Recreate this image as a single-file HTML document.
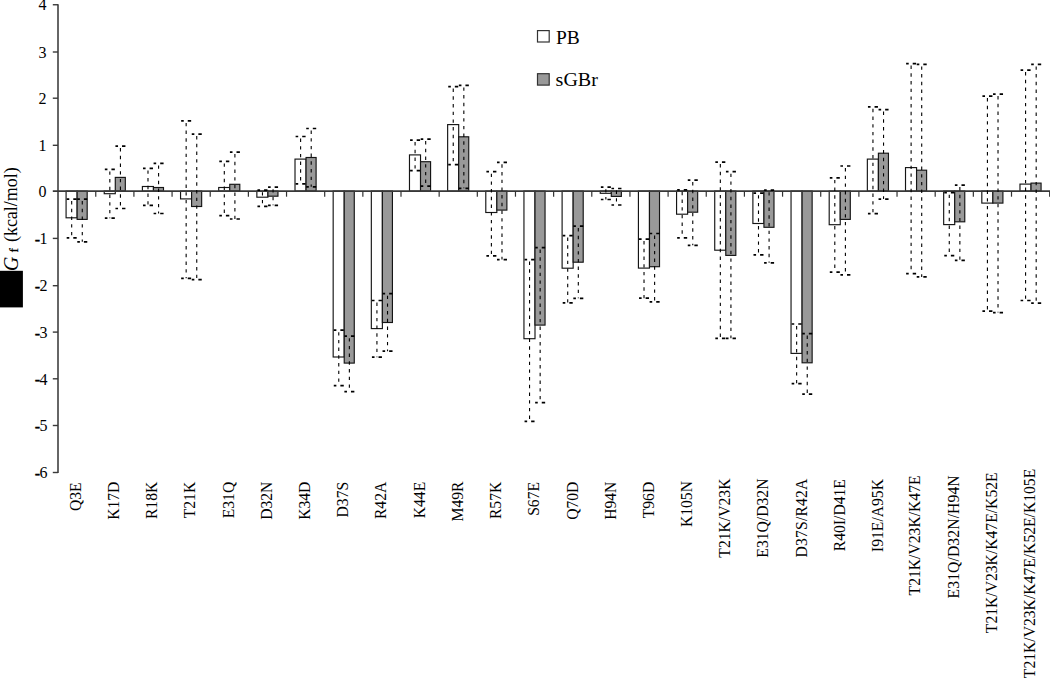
<!DOCTYPE html><html><head><meta charset="utf-8"><title>chart</title>
<style>html,body{margin:0;padding:0;background:#fff}svg{display:block}text{font-family:"Liberation Serif","Times New Roman",serif;fill:#000}</style></head><body>
<svg width="1050" height="678" viewBox="0 0 1050 678">
<rect width="1050" height="678" fill="#fff"/>
<rect x="66.08" y="191.10" width="11.05" height="26.70" fill="#fff" stroke="#151515" stroke-width="1.15"/>
<rect x="77.13" y="191.10" width="10.05" height="28.30" fill="#999" stroke="#151515" stroke-width="1.15"/>
<rect x="104.23" y="191.10" width="11.05" height="2.60" fill="#fff" stroke="#151515" stroke-width="1.15"/>
<rect x="115.28" y="177.40" width="10.05" height="13.70" fill="#999" stroke="#151515" stroke-width="1.15"/>
<rect x="142.39" y="186.50" width="11.05" height="4.60" fill="#fff" stroke="#151515" stroke-width="1.15"/>
<rect x="153.44" y="187.50" width="10.05" height="3.60" fill="#999" stroke="#151515" stroke-width="1.15"/>
<rect x="180.55" y="191.10" width="11.05" height="7.80" fill="#fff" stroke="#151515" stroke-width="1.15"/>
<rect x="191.60" y="191.10" width="10.05" height="15.40" fill="#999" stroke="#151515" stroke-width="1.15"/>
<rect x="218.70" y="187.50" width="11.05" height="3.60" fill="#fff" stroke="#151515" stroke-width="1.15"/>
<rect x="229.75" y="184.30" width="10.05" height="6.80" fill="#999" stroke="#151515" stroke-width="1.15"/>
<rect x="256.86" y="191.10" width="11.05" height="6.10" fill="#fff" stroke="#151515" stroke-width="1.15"/>
<rect x="267.91" y="191.10" width="10.05" height="5.10" fill="#999" stroke="#151515" stroke-width="1.15"/>
<rect x="295.01" y="159.10" width="11.05" height="32.00" fill="#fff" stroke="#151515" stroke-width="1.15"/>
<rect x="306.06" y="157.50" width="10.05" height="33.60" fill="#999" stroke="#151515" stroke-width="1.15"/>
<rect x="333.17" y="191.10" width="11.05" height="165.90" fill="#fff" stroke="#151515" stroke-width="1.15"/>
<rect x="344.22" y="191.10" width="10.05" height="172.00" fill="#999" stroke="#151515" stroke-width="1.15"/>
<rect x="371.33" y="191.10" width="11.05" height="137.50" fill="#fff" stroke="#151515" stroke-width="1.15"/>
<rect x="382.38" y="191.10" width="10.05" height="131.40" fill="#999" stroke="#151515" stroke-width="1.15"/>
<rect x="409.48" y="154.90" width="11.05" height="36.20" fill="#fff" stroke="#151515" stroke-width="1.15"/>
<rect x="420.53" y="161.70" width="10.05" height="29.40" fill="#999" stroke="#151515" stroke-width="1.15"/>
<rect x="447.64" y="124.60" width="11.05" height="66.50" fill="#fff" stroke="#151515" stroke-width="1.15"/>
<rect x="458.69" y="136.80" width="10.05" height="54.30" fill="#999" stroke="#151515" stroke-width="1.15"/>
<rect x="485.79" y="191.10" width="11.05" height="21.40" fill="#fff" stroke="#151515" stroke-width="1.15"/>
<rect x="496.84" y="191.10" width="10.05" height="19.00" fill="#999" stroke="#151515" stroke-width="1.15"/>
<rect x="523.95" y="191.10" width="11.05" height="147.60" fill="#fff" stroke="#151515" stroke-width="1.15"/>
<rect x="535.00" y="191.10" width="10.05" height="134.00" fill="#999" stroke="#151515" stroke-width="1.15"/>
<rect x="562.11" y="191.10" width="11.05" height="77.10" fill="#fff" stroke="#151515" stroke-width="1.15"/>
<rect x="573.16" y="191.10" width="10.05" height="71.10" fill="#999" stroke="#151515" stroke-width="1.15"/>
<rect x="600.26" y="191.10" width="11.05" height="2.20" fill="#fff" stroke="#151515" stroke-width="1.15"/>
<rect x="611.31" y="191.10" width="10.05" height="5.30" fill="#999" stroke="#151515" stroke-width="1.15"/>
<rect x="638.42" y="191.10" width="11.05" height="77.00" fill="#fff" stroke="#151515" stroke-width="1.15"/>
<rect x="649.47" y="191.10" width="10.05" height="75.60" fill="#999" stroke="#151515" stroke-width="1.15"/>
<rect x="676.57" y="191.10" width="11.05" height="23.10" fill="#fff" stroke="#151515" stroke-width="1.15"/>
<rect x="687.62" y="191.10" width="10.05" height="21.10" fill="#999" stroke="#151515" stroke-width="1.15"/>
<rect x="714.73" y="191.10" width="11.05" height="59.10" fill="#fff" stroke="#151515" stroke-width="1.15"/>
<rect x="725.78" y="191.10" width="10.05" height="64.30" fill="#999" stroke="#151515" stroke-width="1.15"/>
<rect x="752.89" y="191.10" width="11.05" height="32.40" fill="#fff" stroke="#151515" stroke-width="1.15"/>
<rect x="763.94" y="191.10" width="10.05" height="36.20" fill="#999" stroke="#151515" stroke-width="1.15"/>
<rect x="791.04" y="191.10" width="11.05" height="162.30" fill="#fff" stroke="#151515" stroke-width="1.15"/>
<rect x="802.09" y="191.10" width="10.05" height="171.70" fill="#999" stroke="#151515" stroke-width="1.15"/>
<rect x="829.20" y="191.10" width="11.05" height="33.60" fill="#fff" stroke="#151515" stroke-width="1.15"/>
<rect x="840.25" y="191.10" width="10.05" height="28.30" fill="#999" stroke="#151515" stroke-width="1.15"/>
<rect x="867.35" y="159.10" width="11.05" height="32.00" fill="#fff" stroke="#151515" stroke-width="1.15"/>
<rect x="878.40" y="153.20" width="10.05" height="37.90" fill="#999" stroke="#151515" stroke-width="1.15"/>
<rect x="905.51" y="167.60" width="11.05" height="23.50" fill="#fff" stroke="#151515" stroke-width="1.15"/>
<rect x="916.56" y="170.20" width="10.05" height="20.90" fill="#999" stroke="#151515" stroke-width="1.15"/>
<rect x="943.67" y="191.10" width="11.05" height="33.50" fill="#fff" stroke="#151515" stroke-width="1.15"/>
<rect x="954.72" y="191.10" width="10.05" height="30.70" fill="#999" stroke="#151515" stroke-width="1.15"/>
<rect x="981.82" y="191.10" width="11.05" height="12.00" fill="#fff" stroke="#151515" stroke-width="1.15"/>
<rect x="992.87" y="191.10" width="10.05" height="12.00" fill="#999" stroke="#151515" stroke-width="1.15"/>
<rect x="1019.98" y="184.10" width="11.05" height="7.00" fill="#fff" stroke="#151515" stroke-width="1.15"/>
<rect x="1031.03" y="183.10" width="10.05" height="8.00" fill="#999" stroke="#151515" stroke-width="1.15"/>
<line x1="58.0" y1="4.2" x2="58.0" y2="473.1" stroke="#666" stroke-width="2"/>
<line x1="52.8" y1="191.1" x2="1050" y2="191.1" stroke="#383838" stroke-width="1.7"/>
<line x1="52.8" y1="4.75" x2="58.0" y2="4.75" stroke="#3a3a3a" stroke-width="1.4"/>
<text x="46.6" y="9.90" font-size="16" text-anchor="end">4</text>
<line x1="52.8" y1="52.0" x2="58.0" y2="52.0" stroke="#3a3a3a" stroke-width="1.4"/>
<text x="46.6" y="57.75" font-size="16" text-anchor="end">3</text>
<line x1="52.8" y1="98.2" x2="58.0" y2="98.2" stroke="#3a3a3a" stroke-width="1.4"/>
<text x="46.6" y="103.95" font-size="16" text-anchor="end">2</text>
<line x1="52.8" y1="145.3" x2="58.0" y2="145.3" stroke="#3a3a3a" stroke-width="1.4"/>
<text x="46.6" y="151.05" font-size="16" text-anchor="end">1</text>
<text x="46.6" y="196.90" font-size="16" text-anchor="end">0</text>
<line x1="52.8" y1="238.4" x2="58.0" y2="238.4" stroke="#3a3a3a" stroke-width="1.4"/>
<text x="46.6" y="244.15" font-size="16" text-anchor="end"><tspan dx="0.8" dy="0.8" stroke="#000" stroke-width="0.35">-</tspan><tspan dx="-0.8" dy="-0.8">1</tspan></text>
<line x1="52.8" y1="285.7" x2="58.0" y2="285.7" stroke="#3a3a3a" stroke-width="1.4"/>
<text x="46.6" y="291.45" font-size="16" text-anchor="end"><tspan dx="0.8" dy="0.8" stroke="#000" stroke-width="0.35">-</tspan><tspan dx="-0.8" dy="-0.8">2</tspan></text>
<line x1="52.8" y1="332.1" x2="58.0" y2="332.1" stroke="#3a3a3a" stroke-width="1.4"/>
<text x="46.6" y="337.85" font-size="16" text-anchor="end"><tspan dx="0.8" dy="0.8" stroke="#000" stroke-width="0.35">-</tspan><tspan dx="-0.8" dy="-0.8">3</tspan></text>
<line x1="52.8" y1="378.8" x2="58.0" y2="378.8" stroke="#3a3a3a" stroke-width="1.4"/>
<text x="46.6" y="384.55" font-size="16" text-anchor="end"><tspan dx="0.8" dy="0.8" stroke="#000" stroke-width="0.35">-</tspan><tspan dx="-0.8" dy="-0.8">4</tspan></text>
<line x1="52.8" y1="425.5" x2="58.0" y2="425.5" stroke="#3a3a3a" stroke-width="1.4"/>
<text x="46.6" y="431.25" font-size="16" text-anchor="end"><tspan dx="0.8" dy="0.8" stroke="#000" stroke-width="0.35">-</tspan><tspan dx="-0.8" dy="-0.8">5</tspan></text>
<line x1="52.8" y1="472.5" x2="58.0" y2="472.5" stroke="#3a3a3a" stroke-width="1.4"/>
<text x="46.6" y="478.25" font-size="16" text-anchor="end"><tspan dx="0.8" dy="0.8" stroke="#000" stroke-width="0.35">-</tspan><tspan dx="-0.8" dy="-0.8">6</tspan></text>
<line x1="95.76" y1="191.1" x2="95.76" y2="196.7" stroke="#333" stroke-width="1.2"/>
<line x1="133.91" y1="191.1" x2="133.91" y2="196.7" stroke="#333" stroke-width="1.2"/>
<line x1="172.07" y1="191.1" x2="172.07" y2="196.7" stroke="#333" stroke-width="1.2"/>
<line x1="210.22" y1="191.1" x2="210.22" y2="196.7" stroke="#333" stroke-width="1.2"/>
<line x1="248.38" y1="191.1" x2="248.38" y2="196.7" stroke="#333" stroke-width="1.2"/>
<line x1="286.54" y1="191.1" x2="286.54" y2="196.7" stroke="#333" stroke-width="1.2"/>
<line x1="324.69" y1="191.1" x2="324.69" y2="196.7" stroke="#333" stroke-width="1.2"/>
<line x1="362.85" y1="191.1" x2="362.85" y2="196.7" stroke="#333" stroke-width="1.2"/>
<line x1="401.00" y1="191.1" x2="401.00" y2="196.7" stroke="#333" stroke-width="1.2"/>
<line x1="439.16" y1="191.1" x2="439.16" y2="196.7" stroke="#333" stroke-width="1.2"/>
<line x1="477.32" y1="191.1" x2="477.32" y2="196.7" stroke="#333" stroke-width="1.2"/>
<line x1="515.47" y1="191.1" x2="515.47" y2="196.7" stroke="#333" stroke-width="1.2"/>
<line x1="553.63" y1="191.1" x2="553.63" y2="196.7" stroke="#333" stroke-width="1.2"/>
<line x1="591.78" y1="191.1" x2="591.78" y2="196.7" stroke="#333" stroke-width="1.2"/>
<line x1="629.94" y1="191.1" x2="629.94" y2="196.7" stroke="#333" stroke-width="1.2"/>
<line x1="668.10" y1="191.1" x2="668.10" y2="196.7" stroke="#333" stroke-width="1.2"/>
<line x1="706.25" y1="191.1" x2="706.25" y2="196.7" stroke="#333" stroke-width="1.2"/>
<line x1="744.41" y1="191.1" x2="744.41" y2="196.7" stroke="#333" stroke-width="1.2"/>
<line x1="782.56" y1="191.1" x2="782.56" y2="196.7" stroke="#333" stroke-width="1.2"/>
<line x1="820.72" y1="191.1" x2="820.72" y2="196.7" stroke="#333" stroke-width="1.2"/>
<line x1="858.88" y1="191.1" x2="858.88" y2="196.7" stroke="#333" stroke-width="1.2"/>
<line x1="897.03" y1="191.1" x2="897.03" y2="196.7" stroke="#333" stroke-width="1.2"/>
<line x1="935.19" y1="191.1" x2="935.19" y2="196.7" stroke="#333" stroke-width="1.2"/>
<line x1="973.34" y1="191.1" x2="973.34" y2="196.7" stroke="#333" stroke-width="1.2"/>
<line x1="1011.50" y1="191.1" x2="1011.50" y2="196.7" stroke="#333" stroke-width="1.2"/>
<line x1="1049.66" y1="191.1" x2="1049.66" y2="196.7" stroke="#333" stroke-width="1.2"/>
<line x1="71.68" y1="199.10" x2="71.68" y2="237.80" stroke="#000" stroke-width="1.1" stroke-dasharray="3.4 4.3" stroke-dashoffset="-2"/>
<line x1="76.68" y1="199.10" x2="66.68" y2="199.10" stroke="#000" stroke-width="1.7" stroke-dasharray="3.4 4.0"/>
<line x1="76.68" y1="237.80" x2="66.68" y2="237.80" stroke="#000" stroke-width="1.7" stroke-dasharray="3.4 4.0"/>
<line x1="82.28" y1="199.10" x2="82.28" y2="241.80" stroke="#000" stroke-width="1.1" stroke-dasharray="3.4 4.3" stroke-dashoffset="-2"/>
<line x1="87.28" y1="199.10" x2="77.28" y2="199.10" stroke="#000" stroke-width="1.7" stroke-dasharray="3.4 4.0"/>
<line x1="87.28" y1="241.80" x2="77.28" y2="241.80" stroke="#000" stroke-width="1.7" stroke-dasharray="3.4 4.0"/>
<line x1="109.83" y1="169.40" x2="109.83" y2="218.20" stroke="#000" stroke-width="1.1" stroke-dasharray="3.4 4.3" stroke-dashoffset="-2"/>
<line x1="114.83" y1="169.40" x2="104.83" y2="169.40" stroke="#000" stroke-width="1.7" stroke-dasharray="3.4 4.0"/>
<line x1="114.83" y1="218.20" x2="104.83" y2="218.20" stroke="#000" stroke-width="1.7" stroke-dasharray="3.4 4.0"/>
<line x1="120.43" y1="146.10" x2="120.43" y2="208.50" stroke="#000" stroke-width="1.1" stroke-dasharray="3.4 4.3" stroke-dashoffset="-2"/>
<line x1="125.43" y1="146.10" x2="115.43" y2="146.10" stroke="#000" stroke-width="1.7" stroke-dasharray="3.4 4.0"/>
<line x1="125.43" y1="208.50" x2="115.43" y2="208.50" stroke="#000" stroke-width="1.7" stroke-dasharray="3.4 4.0"/>
<line x1="147.99" y1="168.40" x2="147.99" y2="205.30" stroke="#000" stroke-width="1.1" stroke-dasharray="3.4 4.3" stroke-dashoffset="-2"/>
<line x1="152.99" y1="168.40" x2="142.99" y2="168.40" stroke="#000" stroke-width="1.7" stroke-dasharray="3.4 4.0"/>
<line x1="152.99" y1="205.30" x2="142.99" y2="205.30" stroke="#000" stroke-width="1.7" stroke-dasharray="3.4 4.0"/>
<line x1="158.59" y1="163.40" x2="158.59" y2="213.50" stroke="#000" stroke-width="1.1" stroke-dasharray="3.4 4.3" stroke-dashoffset="-2"/>
<line x1="163.59" y1="163.40" x2="153.59" y2="163.40" stroke="#000" stroke-width="1.7" stroke-dasharray="3.4 4.0"/>
<line x1="163.59" y1="213.50" x2="153.59" y2="213.50" stroke="#000" stroke-width="1.7" stroke-dasharray="3.4 4.0"/>
<line x1="186.15" y1="120.90" x2="186.15" y2="278.30" stroke="#000" stroke-width="1.1" stroke-dasharray="3.4 4.3" stroke-dashoffset="-2"/>
<line x1="191.15" y1="120.90" x2="181.15" y2="120.90" stroke="#000" stroke-width="1.7" stroke-dasharray="3.4 4.0"/>
<line x1="191.15" y1="278.30" x2="181.15" y2="278.30" stroke="#000" stroke-width="1.7" stroke-dasharray="3.4 4.0"/>
<line x1="196.75" y1="134.10" x2="196.75" y2="279.70" stroke="#000" stroke-width="1.1" stroke-dasharray="3.4 4.3" stroke-dashoffset="-2"/>
<line x1="201.75" y1="134.10" x2="191.75" y2="134.10" stroke="#000" stroke-width="1.7" stroke-dasharray="3.4 4.0"/>
<line x1="201.75" y1="279.70" x2="191.75" y2="279.70" stroke="#000" stroke-width="1.7" stroke-dasharray="3.4 4.0"/>
<line x1="224.30" y1="161.40" x2="224.30" y2="215.60" stroke="#000" stroke-width="1.1" stroke-dasharray="3.4 4.3" stroke-dashoffset="-2"/>
<line x1="229.30" y1="161.40" x2="219.30" y2="161.40" stroke="#000" stroke-width="1.7" stroke-dasharray="3.4 4.0"/>
<line x1="229.30" y1="215.60" x2="219.30" y2="215.60" stroke="#000" stroke-width="1.7" stroke-dasharray="3.4 4.0"/>
<line x1="234.90" y1="152.10" x2="234.90" y2="219.00" stroke="#000" stroke-width="1.1" stroke-dasharray="3.4 4.3" stroke-dashoffset="-2"/>
<line x1="239.90" y1="152.10" x2="229.90" y2="152.10" stroke="#000" stroke-width="1.7" stroke-dasharray="3.4 4.0"/>
<line x1="239.90" y1="219.00" x2="229.90" y2="219.00" stroke="#000" stroke-width="1.7" stroke-dasharray="3.4 4.0"/>
<line x1="262.46" y1="190.20" x2="262.46" y2="206.30" stroke="#000" stroke-width="1.1" stroke-dasharray="3.4 4.3" stroke-dashoffset="-2"/>
<line x1="267.46" y1="190.20" x2="257.46" y2="190.20" stroke="#000" stroke-width="1.7" stroke-dasharray="3.4 4.0"/>
<line x1="267.46" y1="206.30" x2="257.46" y2="206.30" stroke="#000" stroke-width="1.7" stroke-dasharray="3.4 4.0"/>
<line x1="273.06" y1="187.20" x2="273.06" y2="205.30" stroke="#000" stroke-width="1.1" stroke-dasharray="3.4 4.3" stroke-dashoffset="-2"/>
<line x1="278.06" y1="187.20" x2="268.06" y2="187.20" stroke="#000" stroke-width="1.7" stroke-dasharray="3.4 4.0"/>
<line x1="278.06" y1="205.30" x2="268.06" y2="205.30" stroke="#000" stroke-width="1.7" stroke-dasharray="3.4 4.0"/>
<line x1="300.61" y1="136.50" x2="300.61" y2="183.80" stroke="#000" stroke-width="1.1" stroke-dasharray="3.4 4.3" stroke-dashoffset="-2"/>
<line x1="305.61" y1="136.50" x2="295.61" y2="136.50" stroke="#000" stroke-width="1.7" stroke-dasharray="3.4 4.0"/>
<line x1="305.61" y1="183.80" x2="295.61" y2="183.80" stroke="#000" stroke-width="1.7" stroke-dasharray="3.4 4.0"/>
<line x1="311.21" y1="128.50" x2="311.21" y2="186.80" stroke="#000" stroke-width="1.1" stroke-dasharray="3.4 4.3" stroke-dashoffset="-2"/>
<line x1="316.21" y1="128.50" x2="306.21" y2="128.50" stroke="#000" stroke-width="1.7" stroke-dasharray="3.4 4.0"/>
<line x1="316.21" y1="186.80" x2="306.21" y2="186.80" stroke="#000" stroke-width="1.7" stroke-dasharray="3.4 4.0"/>
<line x1="338.77" y1="330.20" x2="338.77" y2="385.70" stroke="#000" stroke-width="1.1" stroke-dasharray="3.4 4.3" stroke-dashoffset="-2"/>
<line x1="343.77" y1="330.20" x2="333.77" y2="330.20" stroke="#000" stroke-width="1.7" stroke-dasharray="3.4 4.0"/>
<line x1="343.77" y1="385.70" x2="333.77" y2="385.70" stroke="#000" stroke-width="1.7" stroke-dasharray="3.4 4.0"/>
<line x1="349.37" y1="336.20" x2="349.37" y2="391.70" stroke="#000" stroke-width="1.1" stroke-dasharray="3.4 4.3" stroke-dashoffset="-2"/>
<line x1="354.37" y1="336.20" x2="344.37" y2="336.20" stroke="#000" stroke-width="1.7" stroke-dasharray="3.4 4.0"/>
<line x1="354.37" y1="391.70" x2="344.37" y2="391.70" stroke="#000" stroke-width="1.7" stroke-dasharray="3.4 4.0"/>
<line x1="376.93" y1="300.50" x2="376.93" y2="357.20" stroke="#000" stroke-width="1.1" stroke-dasharray="3.4 4.3" stroke-dashoffset="-2"/>
<line x1="381.93" y1="300.50" x2="371.93" y2="300.50" stroke="#000" stroke-width="1.7" stroke-dasharray="3.4 4.0"/>
<line x1="381.93" y1="357.20" x2="371.93" y2="357.20" stroke="#000" stroke-width="1.7" stroke-dasharray="3.4 4.0"/>
<line x1="387.53" y1="293.70" x2="387.53" y2="351.20" stroke="#000" stroke-width="1.1" stroke-dasharray="3.4 4.3" stroke-dashoffset="-2"/>
<line x1="392.53" y1="293.70" x2="382.53" y2="293.70" stroke="#000" stroke-width="1.7" stroke-dasharray="3.4 4.0"/>
<line x1="392.53" y1="351.20" x2="382.53" y2="351.20" stroke="#000" stroke-width="1.7" stroke-dasharray="3.4 4.0"/>
<line x1="415.08" y1="140.10" x2="415.08" y2="170.60" stroke="#000" stroke-width="1.1" stroke-dasharray="3.4 4.3" stroke-dashoffset="-2"/>
<line x1="420.08" y1="140.10" x2="410.08" y2="140.10" stroke="#000" stroke-width="1.7" stroke-dasharray="3.4 4.0"/>
<line x1="420.08" y1="170.60" x2="410.08" y2="170.60" stroke="#000" stroke-width="1.7" stroke-dasharray="3.4 4.0"/>
<line x1="425.68" y1="139.10" x2="425.68" y2="186.20" stroke="#000" stroke-width="1.1" stroke-dasharray="3.4 4.3" stroke-dashoffset="-2"/>
<line x1="430.68" y1="139.10" x2="420.68" y2="139.10" stroke="#000" stroke-width="1.7" stroke-dasharray="3.4 4.0"/>
<line x1="430.68" y1="186.20" x2="420.68" y2="186.20" stroke="#000" stroke-width="1.7" stroke-dasharray="3.4 4.0"/>
<line x1="453.24" y1="86.60" x2="453.24" y2="164.70" stroke="#000" stroke-width="1.1" stroke-dasharray="3.4 4.3" stroke-dashoffset="-2"/>
<line x1="458.24" y1="86.60" x2="448.24" y2="86.60" stroke="#000" stroke-width="1.7" stroke-dasharray="3.4 4.0"/>
<line x1="458.24" y1="164.70" x2="448.24" y2="164.70" stroke="#000" stroke-width="1.7" stroke-dasharray="3.4 4.0"/>
<line x1="463.84" y1="85.40" x2="463.84" y2="188.30" stroke="#000" stroke-width="1.1" stroke-dasharray="3.4 4.3" stroke-dashoffset="-2"/>
<line x1="468.84" y1="85.40" x2="458.84" y2="85.40" stroke="#000" stroke-width="1.7" stroke-dasharray="3.4 4.0"/>
<line x1="468.84" y1="188.30" x2="458.84" y2="188.30" stroke="#000" stroke-width="1.7" stroke-dasharray="3.4 4.0"/>
<line x1="491.39" y1="171.70" x2="491.39" y2="255.80" stroke="#000" stroke-width="1.1" stroke-dasharray="3.4 4.3" stroke-dashoffset="-2"/>
<line x1="496.39" y1="171.70" x2="486.39" y2="171.70" stroke="#000" stroke-width="1.7" stroke-dasharray="3.4 4.0"/>
<line x1="496.39" y1="255.80" x2="486.39" y2="255.80" stroke="#000" stroke-width="1.7" stroke-dasharray="3.4 4.0"/>
<line x1="501.99" y1="162.30" x2="501.99" y2="259.60" stroke="#000" stroke-width="1.1" stroke-dasharray="3.4 4.3" stroke-dashoffset="-2"/>
<line x1="506.99" y1="162.30" x2="496.99" y2="162.30" stroke="#000" stroke-width="1.7" stroke-dasharray="3.4 4.0"/>
<line x1="506.99" y1="259.60" x2="496.99" y2="259.60" stroke="#000" stroke-width="1.7" stroke-dasharray="3.4 4.0"/>
<line x1="529.55" y1="259.60" x2="529.55" y2="421.30" stroke="#000" stroke-width="1.1" stroke-dasharray="3.4 4.3" stroke-dashoffset="-2"/>
<line x1="534.55" y1="259.60" x2="524.55" y2="259.60" stroke="#000" stroke-width="1.7" stroke-dasharray="3.4 4.0"/>
<line x1="534.55" y1="421.30" x2="524.55" y2="421.30" stroke="#000" stroke-width="1.7" stroke-dasharray="3.4 4.0"/>
<line x1="540.15" y1="247.60" x2="540.15" y2="402.70" stroke="#000" stroke-width="1.1" stroke-dasharray="3.4 4.3" stroke-dashoffset="-2"/>
<line x1="545.15" y1="247.60" x2="535.15" y2="247.60" stroke="#000" stroke-width="1.7" stroke-dasharray="3.4 4.0"/>
<line x1="545.15" y1="402.70" x2="535.15" y2="402.70" stroke="#000" stroke-width="1.7" stroke-dasharray="3.4 4.0"/>
<line x1="567.71" y1="235.60" x2="567.71" y2="302.90" stroke="#000" stroke-width="1.1" stroke-dasharray="3.4 4.3" stroke-dashoffset="-2"/>
<line x1="572.71" y1="235.60" x2="562.71" y2="235.60" stroke="#000" stroke-width="1.7" stroke-dasharray="3.4 4.0"/>
<line x1="572.71" y1="302.90" x2="562.71" y2="302.90" stroke="#000" stroke-width="1.7" stroke-dasharray="3.4 4.0"/>
<line x1="578.31" y1="226.10" x2="578.31" y2="298.30" stroke="#000" stroke-width="1.1" stroke-dasharray="3.4 4.3" stroke-dashoffset="-2"/>
<line x1="583.31" y1="226.10" x2="573.31" y2="226.10" stroke="#000" stroke-width="1.7" stroke-dasharray="3.4 4.0"/>
<line x1="583.31" y1="298.30" x2="573.31" y2="298.30" stroke="#000" stroke-width="1.7" stroke-dasharray="3.4 4.0"/>
<line x1="605.86" y1="187.20" x2="605.86" y2="199.50" stroke="#000" stroke-width="1.1" stroke-dasharray="3.4 4.3" stroke-dashoffset="-2"/>
<line x1="610.86" y1="187.20" x2="600.86" y2="187.20" stroke="#000" stroke-width="1.7" stroke-dasharray="3.4 4.0"/>
<line x1="610.86" y1="199.50" x2="600.86" y2="199.50" stroke="#000" stroke-width="1.7" stroke-dasharray="3.4 4.0"/>
<line x1="616.46" y1="188.50" x2="616.46" y2="205.00" stroke="#000" stroke-width="1.1" stroke-dasharray="3.4 4.3" stroke-dashoffset="-2"/>
<line x1="621.46" y1="188.50" x2="611.46" y2="188.50" stroke="#000" stroke-width="1.7" stroke-dasharray="3.4 4.0"/>
<line x1="621.46" y1="205.00" x2="611.46" y2="205.00" stroke="#000" stroke-width="1.7" stroke-dasharray="3.4 4.0"/>
<line x1="644.02" y1="239.10" x2="644.02" y2="298.20" stroke="#000" stroke-width="1.1" stroke-dasharray="3.4 4.3" stroke-dashoffset="-2"/>
<line x1="649.02" y1="239.10" x2="639.02" y2="239.10" stroke="#000" stroke-width="1.7" stroke-dasharray="3.4 4.0"/>
<line x1="649.02" y1="298.20" x2="639.02" y2="298.20" stroke="#000" stroke-width="1.7" stroke-dasharray="3.4 4.0"/>
<line x1="654.62" y1="233.50" x2="654.62" y2="301.80" stroke="#000" stroke-width="1.1" stroke-dasharray="3.4 4.3" stroke-dashoffset="-2"/>
<line x1="659.62" y1="233.50" x2="649.62" y2="233.50" stroke="#000" stroke-width="1.7" stroke-dasharray="3.4 4.0"/>
<line x1="659.62" y1="301.80" x2="649.62" y2="301.80" stroke="#000" stroke-width="1.7" stroke-dasharray="3.4 4.0"/>
<line x1="682.17" y1="189.80" x2="682.17" y2="237.90" stroke="#000" stroke-width="1.1" stroke-dasharray="3.4 4.3" stroke-dashoffset="-2"/>
<line x1="687.17" y1="189.80" x2="677.17" y2="189.80" stroke="#000" stroke-width="1.7" stroke-dasharray="3.4 4.0"/>
<line x1="687.17" y1="237.90" x2="677.17" y2="237.90" stroke="#000" stroke-width="1.7" stroke-dasharray="3.4 4.0"/>
<line x1="692.77" y1="180.10" x2="692.77" y2="245.30" stroke="#000" stroke-width="1.1" stroke-dasharray="3.4 4.3" stroke-dashoffset="-2"/>
<line x1="697.77" y1="180.10" x2="687.77" y2="180.10" stroke="#000" stroke-width="1.7" stroke-dasharray="3.4 4.0"/>
<line x1="697.77" y1="245.30" x2="687.77" y2="245.30" stroke="#000" stroke-width="1.7" stroke-dasharray="3.4 4.0"/>
<line x1="720.33" y1="162.10" x2="720.33" y2="338.30" stroke="#000" stroke-width="1.1" stroke-dasharray="3.4 4.3" stroke-dashoffset="-2"/>
<line x1="725.33" y1="162.10" x2="715.33" y2="162.10" stroke="#000" stroke-width="1.7" stroke-dasharray="3.4 4.0"/>
<line x1="725.33" y1="338.30" x2="715.33" y2="338.30" stroke="#000" stroke-width="1.7" stroke-dasharray="3.4 4.0"/>
<line x1="730.93" y1="171.70" x2="730.93" y2="338.30" stroke="#000" stroke-width="1.1" stroke-dasharray="3.4 4.3" stroke-dashoffset="-2"/>
<line x1="735.93" y1="171.70" x2="725.93" y2="171.70" stroke="#000" stroke-width="1.7" stroke-dasharray="3.4 4.0"/>
<line x1="735.93" y1="338.30" x2="725.93" y2="338.30" stroke="#000" stroke-width="1.7" stroke-dasharray="3.4 4.0"/>
<line x1="758.49" y1="193.20" x2="758.49" y2="254.80" stroke="#000" stroke-width="1.1" stroke-dasharray="3.4 4.3" stroke-dashoffset="-2"/>
<line x1="763.49" y1="193.20" x2="753.49" y2="193.20" stroke="#000" stroke-width="1.7" stroke-dasharray="3.4 4.0"/>
<line x1="763.49" y1="254.80" x2="753.49" y2="254.80" stroke="#000" stroke-width="1.7" stroke-dasharray="3.4 4.0"/>
<line x1="769.09" y1="190.20" x2="769.09" y2="262.80" stroke="#000" stroke-width="1.1" stroke-dasharray="3.4 4.3" stroke-dashoffset="-2"/>
<line x1="774.09" y1="190.20" x2="764.09" y2="190.20" stroke="#000" stroke-width="1.7" stroke-dasharray="3.4 4.0"/>
<line x1="774.09" y1="262.80" x2="764.09" y2="262.80" stroke="#000" stroke-width="1.7" stroke-dasharray="3.4 4.0"/>
<line x1="796.64" y1="324.00" x2="796.64" y2="383.60" stroke="#000" stroke-width="1.1" stroke-dasharray="3.4 4.3" stroke-dashoffset="-2"/>
<line x1="801.64" y1="324.00" x2="791.64" y2="324.00" stroke="#000" stroke-width="1.7" stroke-dasharray="3.4 4.0"/>
<line x1="801.64" y1="383.60" x2="791.64" y2="383.60" stroke="#000" stroke-width="1.7" stroke-dasharray="3.4 4.0"/>
<line x1="807.24" y1="333.60" x2="807.24" y2="394.20" stroke="#000" stroke-width="1.1" stroke-dasharray="3.4 4.3" stroke-dashoffset="-2"/>
<line x1="812.24" y1="333.60" x2="802.24" y2="333.60" stroke="#000" stroke-width="1.7" stroke-dasharray="3.4 4.0"/>
<line x1="812.24" y1="394.20" x2="802.24" y2="394.20" stroke="#000" stroke-width="1.7" stroke-dasharray="3.4 4.0"/>
<line x1="834.80" y1="177.90" x2="834.80" y2="272.20" stroke="#000" stroke-width="1.1" stroke-dasharray="3.4 4.3" stroke-dashoffset="-2"/>
<line x1="839.80" y1="177.90" x2="829.80" y2="177.90" stroke="#000" stroke-width="1.7" stroke-dasharray="3.4 4.0"/>
<line x1="839.80" y1="272.20" x2="829.80" y2="272.20" stroke="#000" stroke-width="1.7" stroke-dasharray="3.4 4.0"/>
<line x1="845.40" y1="166.00" x2="845.40" y2="274.80" stroke="#000" stroke-width="1.1" stroke-dasharray="3.4 4.3" stroke-dashoffset="-2"/>
<line x1="850.40" y1="166.00" x2="840.40" y2="166.00" stroke="#000" stroke-width="1.7" stroke-dasharray="3.4 4.0"/>
<line x1="850.40" y1="274.80" x2="840.40" y2="274.80" stroke="#000" stroke-width="1.7" stroke-dasharray="3.4 4.0"/>
<line x1="872.95" y1="106.80" x2="872.95" y2="213.60" stroke="#000" stroke-width="1.1" stroke-dasharray="3.4 4.3" stroke-dashoffset="-2"/>
<line x1="877.95" y1="106.80" x2="867.95" y2="106.80" stroke="#000" stroke-width="1.7" stroke-dasharray="3.4 4.0"/>
<line x1="877.95" y1="213.60" x2="867.95" y2="213.60" stroke="#000" stroke-width="1.7" stroke-dasharray="3.4 4.0"/>
<line x1="883.55" y1="109.60" x2="883.55" y2="199.10" stroke="#000" stroke-width="1.1" stroke-dasharray="3.4 4.3" stroke-dashoffset="-2"/>
<line x1="888.55" y1="109.60" x2="878.55" y2="109.60" stroke="#000" stroke-width="1.7" stroke-dasharray="3.4 4.0"/>
<line x1="888.55" y1="199.10" x2="878.55" y2="199.10" stroke="#000" stroke-width="1.7" stroke-dasharray="3.4 4.0"/>
<line x1="911.11" y1="63.60" x2="911.11" y2="273.60" stroke="#000" stroke-width="1.1" stroke-dasharray="3.4 4.3" stroke-dashoffset="-2"/>
<line x1="916.11" y1="63.60" x2="906.11" y2="63.60" stroke="#000" stroke-width="1.7" stroke-dasharray="3.4 4.0"/>
<line x1="916.11" y1="273.60" x2="906.11" y2="273.60" stroke="#000" stroke-width="1.7" stroke-dasharray="3.4 4.0"/>
<line x1="921.71" y1="64.40" x2="921.71" y2="276.90" stroke="#000" stroke-width="1.1" stroke-dasharray="3.4 4.3" stroke-dashoffset="-2"/>
<line x1="926.71" y1="64.40" x2="916.71" y2="64.40" stroke="#000" stroke-width="1.7" stroke-dasharray="3.4 4.0"/>
<line x1="926.71" y1="276.90" x2="916.71" y2="276.90" stroke="#000" stroke-width="1.7" stroke-dasharray="3.4 4.0"/>
<line x1="949.27" y1="192.70" x2="949.27" y2="255.70" stroke="#000" stroke-width="1.1" stroke-dasharray="3.4 4.3" stroke-dashoffset="-2"/>
<line x1="954.27" y1="192.70" x2="944.27" y2="192.70" stroke="#000" stroke-width="1.7" stroke-dasharray="3.4 4.0"/>
<line x1="954.27" y1="255.70" x2="944.27" y2="255.70" stroke="#000" stroke-width="1.7" stroke-dasharray="3.4 4.0"/>
<line x1="959.87" y1="185.10" x2="959.87" y2="260.30" stroke="#000" stroke-width="1.1" stroke-dasharray="3.4 4.3" stroke-dashoffset="-2"/>
<line x1="964.87" y1="185.10" x2="954.87" y2="185.10" stroke="#000" stroke-width="1.7" stroke-dasharray="3.4 4.0"/>
<line x1="964.87" y1="260.30" x2="954.87" y2="260.30" stroke="#000" stroke-width="1.7" stroke-dasharray="3.4 4.0"/>
<line x1="987.42" y1="96.10" x2="987.42" y2="311.20" stroke="#000" stroke-width="1.1" stroke-dasharray="3.4 4.3" stroke-dashoffset="-2"/>
<line x1="992.42" y1="96.10" x2="982.42" y2="96.10" stroke="#000" stroke-width="1.7" stroke-dasharray="3.4 4.0"/>
<line x1="992.42" y1="311.20" x2="982.42" y2="311.20" stroke="#000" stroke-width="1.7" stroke-dasharray="3.4 4.0"/>
<line x1="998.02" y1="94.10" x2="998.02" y2="312.60" stroke="#000" stroke-width="1.1" stroke-dasharray="3.4 4.3" stroke-dashoffset="-2"/>
<line x1="1003.02" y1="94.10" x2="993.02" y2="94.10" stroke="#000" stroke-width="1.7" stroke-dasharray="3.4 4.0"/>
<line x1="1003.02" y1="312.60" x2="993.02" y2="312.60" stroke="#000" stroke-width="1.7" stroke-dasharray="3.4 4.0"/>
<line x1="1025.58" y1="70.10" x2="1025.58" y2="300.50" stroke="#000" stroke-width="1.1" stroke-dasharray="3.4 4.3" stroke-dashoffset="-2"/>
<line x1="1030.58" y1="70.10" x2="1020.58" y2="70.10" stroke="#000" stroke-width="1.7" stroke-dasharray="3.4 4.0"/>
<line x1="1030.58" y1="300.50" x2="1020.58" y2="300.50" stroke="#000" stroke-width="1.7" stroke-dasharray="3.4 4.0"/>
<line x1="1036.18" y1="64.40" x2="1036.18" y2="303.10" stroke="#000" stroke-width="1.1" stroke-dasharray="3.4 4.3" stroke-dashoffset="-2"/>
<line x1="1041.18" y1="64.40" x2="1031.18" y2="64.40" stroke="#000" stroke-width="1.7" stroke-dasharray="3.4 4.0"/>
<line x1="1041.18" y1="303.10" x2="1031.18" y2="303.10" stroke="#000" stroke-width="1.7" stroke-dasharray="3.4 4.0"/>
<rect x="537.5" y="30.6" width="11.7" height="11.4" fill="#fff" stroke="#333" stroke-width="1.2"/>
<rect x="537.5" y="73.7" width="11.7" height="11.4" fill="#999" stroke="#333" stroke-width="1.2"/>
<text x="556" y="43.6" font-size="18.5" textLength="23.8" lengthAdjust="spacingAndGlyphs">PB</text>
<text x="555.6" y="86" font-size="18.5" textLength="42.3" lengthAdjust="spacingAndGlyphs">sGBr</text>
<text transform="translate(80.98,482.34) rotate(-90)" font-size="15.65" text-anchor="end">Q3E</text>
<text transform="translate(119.13,481.62) rotate(-90)" font-size="15.65" text-anchor="end">K17D</text>
<text transform="translate(157.29,481.69) rotate(-90)" font-size="15.65" text-anchor="end">R18K</text>
<text transform="translate(195.45,481.75) rotate(-90)" font-size="15.65" text-anchor="end">T21K</text>
<text transform="translate(233.60,481.75) rotate(-90)" font-size="15.65" text-anchor="end">E31Q</text>
<text transform="translate(271.76,481.62) rotate(-90)" font-size="15.65" text-anchor="end">D32N</text>
<text transform="translate(309.91,481.62) rotate(-90)" font-size="15.65" text-anchor="end">K34D</text>
<text transform="translate(348.07,481.82) rotate(-90)" font-size="15.65" text-anchor="end">D37S</text>
<text transform="translate(386.23,481.69) rotate(-90)" font-size="15.65" text-anchor="end">R42A</text>
<text transform="translate(424.98,481.75) rotate(-90)" font-size="15.65" text-anchor="end">K44E</text>
<text transform="translate(463.14,481.49) rotate(-90)" font-size="15.65" text-anchor="end">M49R</text>
<text transform="translate(501.29,481.69) rotate(-90)" font-size="15.65" text-anchor="end">R57K</text>
<text transform="translate(539.45,481.95) rotate(-90)" font-size="15.65" text-anchor="end">S67E</text>
<text transform="translate(577.61,481.62) rotate(-90)" font-size="15.65" text-anchor="end">Q70D</text>
<text transform="translate(615.76,481.62) rotate(-90)" font-size="15.65" text-anchor="end">H94N</text>
<text transform="translate(653.92,481.75) rotate(-90)" font-size="15.65" text-anchor="end">T96D</text>
<text transform="translate(692.07,481.04) rotate(-90)" font-size="15.65" text-anchor="end">K105N</text>
<text transform="translate(730.23,478.55) rotate(-90)" font-size="15.65" text-anchor="end">T21K/V23K</text>
<text transform="translate(768.39,478.55) rotate(-90)" font-size="15.65" text-anchor="end">E31Q/D32N</text>
<text transform="translate(806.54,478.68) rotate(-90)" font-size="15.65" text-anchor="end" textLength="78.8" lengthAdjust="spacing">D37S/R42A</text>
<text transform="translate(844.70,479.07) rotate(-90)" font-size="15.65" text-anchor="end">R40I/D41E</text>
<text transform="translate(882.85,479.01) rotate(-90)" font-size="15.65" text-anchor="end">I91E/A95K</text>
<text transform="translate(920.41,475.48) rotate(-90)" font-size="15.65" text-anchor="end">T21K/V23K/K47E</text>
<text transform="translate(958.57,475.35) rotate(-90)" font-size="15.65" text-anchor="end" textLength="123.1" lengthAdjust="spacing">E31Q/D32N/H94N</text>
<text transform="translate(996.72,472.41) rotate(-90)" font-size="15.65" text-anchor="end">T21K/V23K/K47E/K52E</text>
<text transform="translate(1034.88,468.74) rotate(-90)" font-size="15.65" text-anchor="end">T21K/V23K/K47E/K52E/K105E</text>
<rect x="0" y="270.8" width="22.9" height="36.6" fill="#000"/>
<text transform="translate(17.5,271.1) rotate(-90)" font-size="20" font-style="italic">G</text>
<text transform="translate(17.6,252.4) rotate(-90)" font-size="13.5" stroke="#000" stroke-width="0.25">f</text>
<text transform="translate(17.3,242.0) rotate(-90)" font-size="17.8" textLength="74.6" lengthAdjust="spacingAndGlyphs">(kcal/mol)</text>
</svg></body></html>
